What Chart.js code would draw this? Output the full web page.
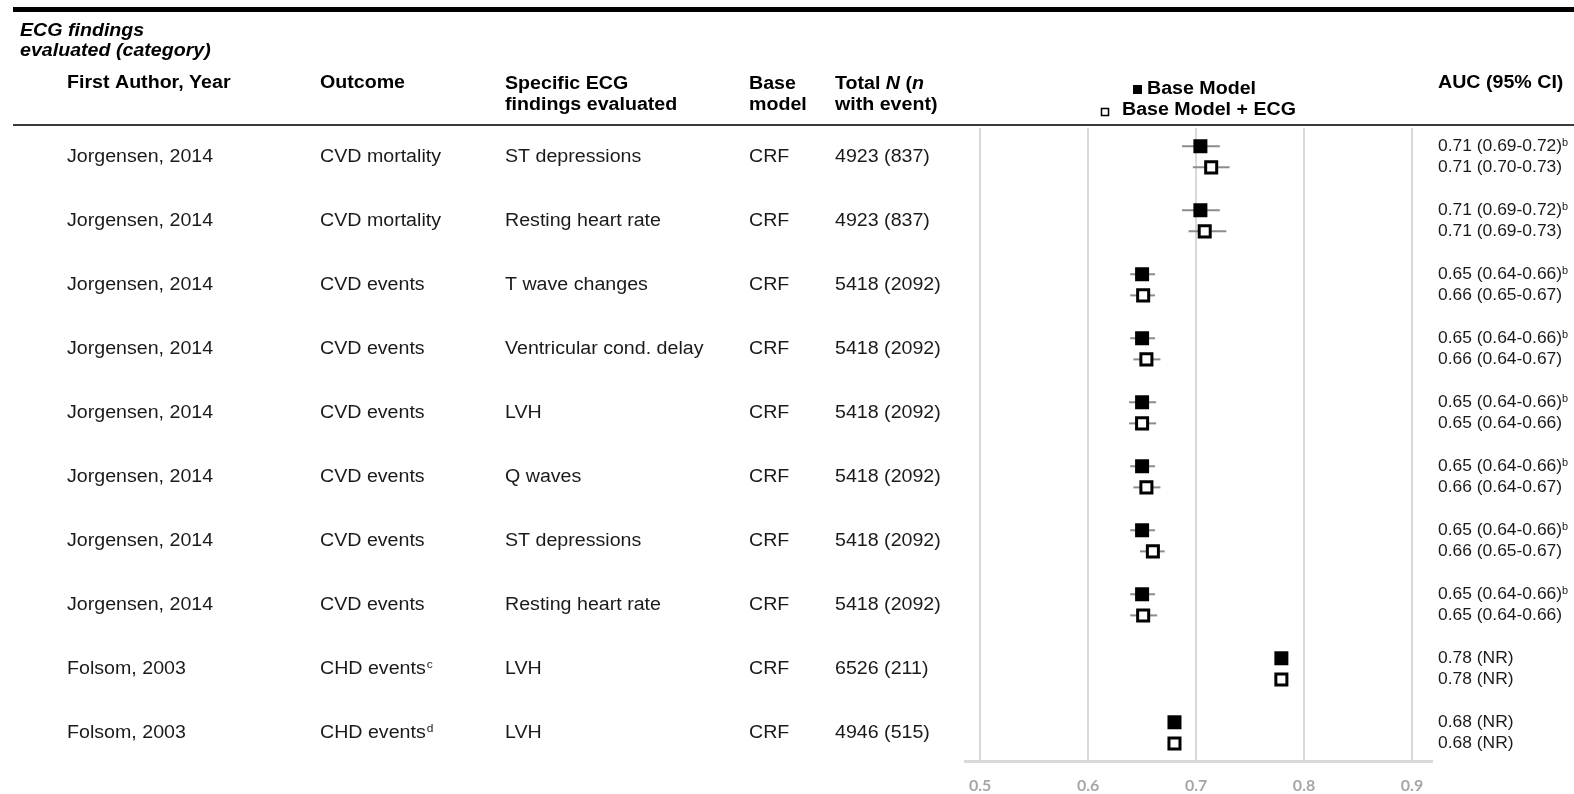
<!DOCTYPE html>
<html>
<head>
<meta charset="utf-8">
<script src="https://cdn.jsdelivr.net/npm/chart.js@4.4.0/dist/chart.umd.min.js"></script>
<style>
  html, body { margin: 0; padding: 0; background: #fff; }
  #wrap { width: 1574px; height: 794px; }
</style>
</head>
<body>
<div id="wrap"><canvas id="forest" width="1574" height="794"></canvas></div>
<script>
  // Table columns
  const authors = ['Jorgensen, 2014', 'Jorgensen, 2014', 'Jorgensen, 2014', 'Jorgensen, 2014', 'Jorgensen, 2014',
                   'Jorgensen, 2014', 'Jorgensen, 2014', 'Jorgensen, 2014', 'Folsom, 2003', 'Folsom, 2003'];
  const outcomes = ['CVD mortality', 'CVD mortality', 'CVD events', 'CVD events', 'CVD events',
                    'CVD events', 'CVD events', 'CVD events', 'CHD events', 'CHD events'];
  const outcomeSup = ['', '', '', '', '', '', '', '', 'c', 'd'];
  const findings = ['ST depressions', 'Resting heart rate', 'T wave changes', 'Ventricular cond. delay', 'LVH',
                    'Q waves', 'ST depressions', 'Resting heart rate', 'LVH', 'LVH'];
  const baseModels = ['CRF', 'CRF', 'CRF', 'CRF', 'CRF', 'CRF', 'CRF', 'CRF', 'CRF', 'CRF'];
  const totals = ['4923 (837)', '4923 (837)', '5418 (2092)', '5418 (2092)', '5418 (2092)',
                  '5418 (2092)', '5418 (2092)', '5418 (2092)', '6526 (211)', '4946 (515)'];

  // Plotted AUCs
  const baseAuc = [0.704, 0.704, 0.650, 0.650, 0.650, 0.650, 0.650, 0.650, 0.779, 0.680];
  const baseLo  = [0.687, 0.687, 0.639, 0.639, 0.638, 0.639, 0.639, 0.639, null, null];
  const baseHi  = [0.722, 0.722, 0.662, 0.662, 0.663, 0.662, 0.662, 0.662, null, null];
  const ecgAuc  = [0.714, 0.708, 0.651, 0.654, 0.650, 0.654, 0.660, 0.651, 0.779, 0.680];
  const ecgLo   = [0.697, 0.693, 0.639, 0.642, 0.638, 0.642, 0.648, 0.639, null, null];
  const ecgHi   = [0.731, 0.728, 0.662, 0.667, 0.663, 0.667, 0.671, 0.664, null, null];

  // AUC text column
  const baseAucText = ['0.71 (0.69-0.72)', '0.71 (0.69-0.72)', '0.65 (0.64-0.66)', '0.65 (0.64-0.66)', '0.65 (0.64-0.66)',
                       '0.65 (0.64-0.66)', '0.65 (0.64-0.66)', '0.65 (0.64-0.66)', '0.78 (NR)', '0.68 (NR)'];
  const baseAucSup = ['b', 'b', 'b', 'b', 'b', 'b', 'b', 'b', '', ''];
  const ecgAucText = ['0.71 (0.70-0.73)', '0.71 (0.69-0.73)', '0.66 (0.65-0.67)', '0.66 (0.64-0.67)', '0.65 (0.64-0.66)',
                      '0.66 (0.64-0.67)', '0.66 (0.65-0.67)', '0.65 (0.64-0.66)', '0.78 (NR)', '0.68 (NR)'];

  const xTicks = [0.5, 0.6, 0.7, 0.8, 0.9];

  const rowShift = 0.165;
  const SX = 1.09;   // text is a bit wide in the original
  const FONT = '"Liberation Sans", Arial, sans-serif';
  const COL = { author: 67, outcome: 320, finding: 505, model: 749, total: 835, auc: 1438 };

  function txt(ctx, s, x, y, font, color, sx = SX) {
    ctx.save();
    ctx.font = font;
    ctx.fillStyle = color;
    ctx.textBaseline = 'alphabetic';
    ctx.translate(x, y);
    ctx.scale(sx, 1);
    ctx.fillText(s, 0, 0);
    const w = ctx.measureText(s).width * sx;
    ctx.restore();
    return w;
  }

  // CI whiskers, drawn under the squares
  const errorBars = {
    id: 'errorBars',
    beforeDatasetsDraw(chart) {
      const { ctx, scales: { x, y } } = chart;
      ctx.save();
      ctx.strokeStyle = '#8c8c8c';
      ctx.lineWidth = 2;
      [[baseLo, baseHi, -rowShift], [ecgLo, ecgHi, rowShift]].forEach(([lo, hi, off]) => {
        lo.forEach((l, i) => {
          if (l == null) return;
          const py = y.getPixelForValue(i + off);
          ctx.beginPath();
          ctx.moveTo(x.getPixelForValue(l), py);
          ctx.lineTo(x.getPixelForValue(hi[i]), py);
          ctx.stroke();
        });
      });
      ctx.restore();
    }
  };

  // Table text, rules and legend
  const table = {
    id: 'table',
    afterDraw(chart) {
      const { ctx, scales: { y } } = chart;
      const reg = '18px ' + FONT;
      const bold = 'bold 18px ' + FONT;
      const boldIt = 'italic bold 18px ' + FONT;
      const ink = '#1a1a1a';

      ctx.save();
      ctx.fillStyle = '#000';
      ctx.fillRect(13, 7, 1561, 5);
      ctx.fillStyle = '#3a3a3a';
      ctx.fillRect(13, 124, 1561, 2);
      ctx.restore();

      txt(ctx, 'ECG findings', 20, 36, boldIt, '#000');
      txt(ctx, 'evaluated (category)', 20, 56, boldIt, '#000');

      txt(ctx, 'First Author, Year', COL.author, 88, bold, '#000');
      txt(ctx, 'Outcome', COL.outcome, 88, bold, '#000');
      txt(ctx, 'Specific ECG', COL.finding, 89, bold, '#000');
      txt(ctx, 'findings evaluated', COL.finding, 110, bold, '#000');
      txt(ctx, 'Base', COL.model, 89, bold, '#000');
      txt(ctx, 'model', COL.model, 110, bold, '#000');
      let cx = COL.total;
      cx += txt(ctx, 'Total ', cx, 89, bold, '#000');
      cx += txt(ctx, 'N', cx, 89, boldIt, '#000');
      cx += txt(ctx, ' (', cx, 89, bold, '#000');
      txt(ctx, 'n', cx, 89, boldIt, '#000');
      txt(ctx, 'with event)', COL.total, 110, bold, '#000');
      txt(ctx, 'AUC (95% CI)', COL.auc, 88, bold, '#000');

      // legend
      const ds = chart.data.datasets;
      ctx.save();
      ctx.fillStyle = '#000';
      ctx.fillRect(1133, 85, 9, 9);
      ctx.strokeStyle = '#000';
      ctx.lineWidth = 1.5;
      ctx.strokeRect(1101.5, 108.5, 7, 7);
      ctx.restore();
      txt(ctx, ds[0].label, 1147, 94, bold, '#000');
      txt(ctx, ds[1].label, 1122, 115, bold, '#000');

      // rows
      authors.forEach((a, i) => {
        const by = y.getPixelForValue(i) + 5;
        txt(ctx, a, COL.author, by, reg, ink);
        const w = txt(ctx, outcomes[i], COL.outcome, by, reg, ink);
        if (outcomeSup[i]) txt(ctx, outcomeSup[i], COL.outcome + w + 1, by - 6, '11px ' + FONT, ink);
        txt(ctx, findings[i], COL.finding, by, reg, ink);
        txt(ctx, baseModels[i], COL.model, by, reg, ink);
        txt(ctx, totals[i], COL.total, by, reg, ink);

        const y1 = y.getPixelForValue(i - rowShift) + 5;
        const y2 = y.getPixelForValue(i + rowShift) + 5;
        const aw = txt(ctx, baseAucText[i], COL.auc, y1, '16px ' + FONT, ink);
        if (baseAucSup[i]) txt(ctx, baseAucSup[i], COL.auc + aw, y1 - 5, '10px ' + FONT, ink);
        txt(ctx, ecgAucText[i], COL.auc, y2, '16px ' + FONT, ink);
      });
    }
  };

  new Chart(document.getElementById('forest'), {
    type: 'scatter',
    data: {
      datasets: [
        {
          label: 'Base Model',
          data: baseAuc.map((v, i) => ({ x: v, y: i - rowShift })),
          pointStyle: 'rect',
          pointRadius: 9.9,
          backgroundColor: '#000',
          borderColor: '#000',
          borderWidth: 0
        },
        {
          label: 'Base Model + ECG',
          data: ecgAuc.map((v, i) => ({ x: v, y: i + rowShift })),
          pointStyle: 'rect',
          pointRadius: 7.8,
          backgroundColor: '#fff',
          borderColor: '#000',
          borderWidth: 3
        }
      ]
    },
    options: {
      responsive: false,
      animation: false,
      devicePixelRatio: 1,
      layout: { padding: { left: 965, right: 142, top: 128, bottom: 3 } },
      plugins: { legend: { display: false }, tooltip: { enabled: false } },
      scales: {
        x: {
          type: 'linear',
          min: 0.486,
          max: 0.9185,
          afterBuildTicks: axis => { axis.ticks = xTicks.map(v => ({ value: v })); },
          afterFit: axis => { axis.height = 30; },
          grid: { color: '#d9d9d9', lineWidth: 2, drawTicks: false },
          border: { color: '#d9d9d9', width: 3 },
          ticks: {
            padding: 15,
            color: '#a6a6a6',
            font: { family: 'Lato', size: 16, weight: 'bold' },
            callback: v => v.toFixed(1)
          }
        },
        y: { type: 'linear', reverse: true, min: -0.45, max: 9.44, display: false }
      }
    },
    plugins: [errorBars, table]
  });
</script>
</body>
</html>
